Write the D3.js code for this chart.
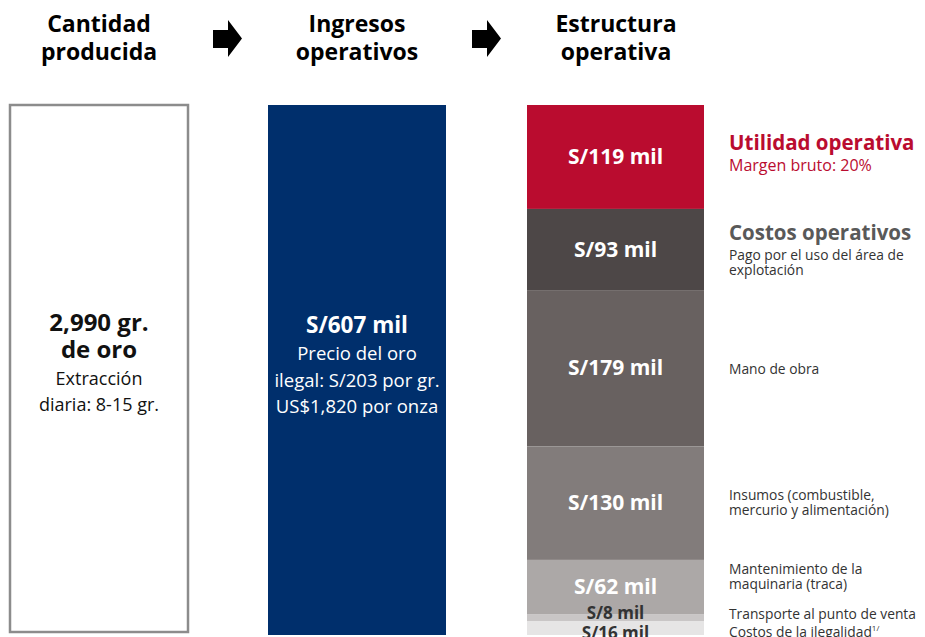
<!DOCTYPE html>
<html>
<head>
<meta charset="utf-8">
<script src="https://cdn.jsdelivr.net/npm/d3@7"></script>
<style>
  body { margin: 0; background: #fff; }
  svg { font-family: "Open Sans", "Lato", sans-serif; }
</style>
</head>
<body>
<div id="chart"></div>
<script>
// data
const stepTitles = [["Cantidad", "producida"], ["Ingresos", "operativos"], ["Estructura", "operativa"]];
const segNames = ["Utilidad operativa", "Pago por el uso del área de explotación", "Mano de obra",
  "Insumos", "Mantenimiento", "Transporte", "Ilegalidad"];
const segValues = [119, 93, 179, 130, 62, 8, 16];
const segLabels = ["S/119 mil", "S/93 mil", "S/179 mil", "S/130 mil", "S/62 mil", "S/8 mil", "S/16 mil"];
const totalIncome = 607;
const quantityText = ["2,990 gr.", "de oro", "Extracción", "diaria: 8-15 gr."];
const incomeText = ["S/607 mil", "Precio del oro", "ilegal: S/203 por gr.", "US$1,820 por onza"];
const segNotes = [
  ["Margen bruto: 20%"],
  ["Pago por el uso del área de", "explotación"],
  ["Mano de obra"],
  ["Insumos (combustible,", "mercurio y alimentación)"],
  ["Mantenimiento de la", "maquinaria (traca)"],
  ["Transporte al punto de venta"],
  ["Costos de la ilegalidad"]
];

const width = 925, height = 637;
const colors = ["#ba0c2f", "#4d4747", "#686160", "#827c7b", "#aca8a7", "#c9c6c6", "#e6e5e5"];

const svg = d3.select("#chart").append("svg")
  .attr("width", width).attr("height", height);

//Columns (left edge of each box)
const colX = [10, 268, 527];
const w = 178;
const y = d3.scaleLinear().domain([0, totalIncome]).range([105, 635]);

//Titles
stepTitles.forEach((t, i) => {
  const cx = colX[i] + w / 2;
  svg.append("text").attr("x", cx).attr("y", 32).attr("text-anchor", "middle")
    .attr("font-size", 23).attr("font-weight", "bold").attr("fill", "#000").text(t[0]);
  svg.append("text").attr("x", cx).attr("y", 60).attr("text-anchor", "middle")
    .attr("font-size", 23).attr("font-weight", "bold").attr("fill", "#000").text(t[1]);
});

//Arrows between titles
[227, 486].forEach(ax => {
  const pts = [[ax - 14, 30], [ax + 1, 30], [ax + 1, 20], [ax + 15, 38.5], [ax + 1, 57], [ax + 1, 48], [ax - 14, 48]];
  svg.append("polygon").attr("points", pts.map(p => p.join(",")).join(" ")).attr("fill", "#000");
});

//Quantity box
svg.append("rect").attr("x", colX[0]).attr("y", 105).attr("width", w).attr("height", 527)
  .attr("fill", "#fff").attr("stroke", "#8c8c8c").attr("stroke-width", 2.5);
const qx = colX[0] + w / 2;
[[quantityText[0], 331, true], [quantityText[1], 358, true], [quantityText[2], 385, false], [quantityText[3], 411, false]]
  .forEach(([t, ty, b]) => {
    svg.append("text").attr("x", qx).attr("y", ty).attr("text-anchor", "middle")
      .attr("font-size", b ? 24 : 18).attr("font-weight", b ? "bold" : "normal")
      .attr("fill", "#111").text(t);
  });

//Income bar
svg.append("rect").attr("x", colX[1]).attr("y", y(0)).attr("width", w).attr("height", y(totalIncome) - y(0))
  .attr("fill", "#002f6c");
const ix = colX[1] + w / 2;
[[incomeText[0], 333, true], [incomeText[1], 360, false], [incomeText[2], 387, false], [incomeText[3], 413, false]]
  .forEach(([t, ty, b]) => {
    svg.append("text").attr("x", ix).attr("y", ty).attr("text-anchor", "middle")
      .attr("font-size", b ? 22.5 : 18.5).attr("font-weight", b ? "bold" : "normal")
      .attr("fill", "#fff").text(t);
  });

//Stacked structure
const starts = d3.cumsum([0].concat(segValues.slice(0, -1)));
const segs = segValues.map((v, i) => ({ v, y0: starts[i], y1: starts[i] + v, label: segLabels[i], i }));
const sx = colX[2], sw = 177;

svg.selectAll("rect.seg").data(segs).enter().append("rect")
  .attr("class", "seg")
  .attr("x", sx).attr("width", sw)
  .attr("y", d => y(d.y0)).attr("height", d => y(d.y1) - y(d.y0))
  .attr("fill", d => colors[d.i]);

svg.selectAll("text.seglab").data(segs).enter().append("text")
  .attr("class", "seglab")
  .attr("x", sx + sw / 2)
  .attr("y", d => d.i < 5 ? (y(d.y0) + y(d.y1)) / 2 + 7 : (d.i === 5 ? 619 : 639))
  .attr("text-anchor", "middle")
  .attr("font-weight", "bold")
  .attr("font-size", d => d.i < 5 ? 21 : 17)
  .attr("fill", d => d.i < 5 ? "#fff" : "#333")
  .text(d => d.label);

//Right-hand notes
const nx = 729;
svg.append("text").attr("x", nx).attr("y", 150).attr("font-size", 20.5).attr("font-weight", "bold")
  .attr("fill", "#ba0c2f").text("Utilidad operativa");
svg.append("text").attr("x", nx).attr("y", 171).attr("font-size", 16).attr("fill", "#ba0c2f").text(segNotes[0][0]);
svg.append("text").attr("x", nx).attr("y", 240).attr("font-size", 20.5).attr("font-weight", "bold")
  .attr("fill", "#595959").text("Costos operativos");

const noteY = [null, 260, 374, 500, 574, 619, 637];
segNotes.forEach((lines, i) => {
  if (i === 0) return;
  const t = svg.append("text").attr("x", nx).attr("y", noteY[i]).attr("font-size", 13.8).attr("fill", "#333");
  lines.forEach((l, j) => {
    t.append("tspan").attr("x", nx).attr("dy", j === 0 ? 0 : 14.5).text(l);
  });
  if (i === 6) {
    t.append("tspan").attr("font-size", 8).attr("dy", -6).text("1/");
  }
});
</script>
</body>
</html>
